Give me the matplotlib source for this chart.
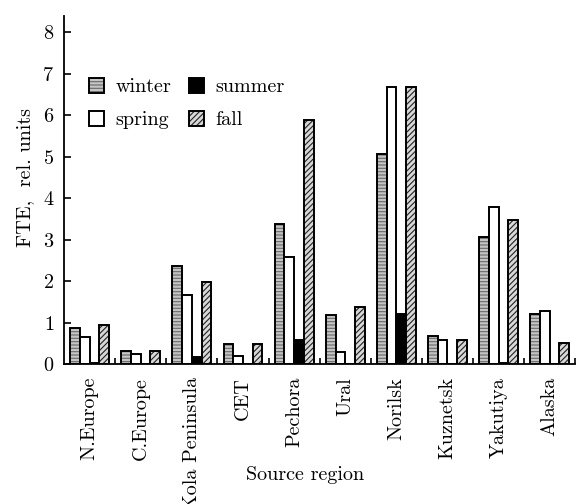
import matplotlib
matplotlib.use("Agg")
import matplotlib.pyplot as plt
import numpy as np

regions = ["N.Europe", "C.Europe", "Kola Peninsula", "CET", "Pechora",
           "Ural", "Norilsk", "Kuznetsk", "Yakutiya", "Alaska"]
winter = [0.88, 0.32, 2.37, 0.48, 3.37, 1.18, 5.07, 0.69, 3.08, 1.22]
spring = [0.67, 0.24, 1.67, 0.20, 2.58, 0.29, 6.67, 0.59, 3.79, 1.28]
summer = [0.04, 0.0, 0.17, 0.0, 0.59, 0.0, 1.22, 0.0, 0.03, 0.0]
fall = [0.94, 0.32, 1.98, 0.48, 5.88, 1.38, 6.67, 0.59, 3.48, 0.51]
yticks = [0, 1, 2, 3, 4, 5, 6, 7, 8]

plt.rcParams['font.family'] = 'cmr10'
plt.rcParams['mathtext.fontset'] = 'cm'
plt.rcParams['axes.formatter.use_mathtext'] = True
plt.rcParams['hatch.linewidth'] = 0.8

fs = 14.5

fig = plt.figure(figsize=(5.77, 5.04), dpi=100)
ax = fig.add_axes([0.111, 0.277, 0.886, 0.692])

x = np.arange(len(regions))
w = 0.19
lw = 1.4

# winter: grey with horizontal lines
hw = ax.bar(x - 1.5 * w, winter, w, color='#c4c4c4', edgecolor='#6a6a6a',
            hatch='-----', linewidth=0)
ow = ax.bar(x - 1.5 * w, winter, w, fill=False, edgecolor='black', linewidth=lw)
# spring: open
sp = ax.bar(x - 0.5 * w, spring, w, color='white', edgecolor='black', linewidth=lw)
# summer: solid black
su = ax.bar(x + 0.5 * w, summer, w, color='black', edgecolor='black', linewidth=lw)
# fall: diagonal hatch
hf = ax.bar(x + 1.5 * w, fall, w, color='#d8d8d8', edgecolor='#222222',
            hatch='//////', linewidth=0)
of = ax.bar(x + 1.5 * w, fall, w, fill=False, edgecolor='black', linewidth=lw)

ax.set_xlim(-0.5, 9.5)
ax.set_ylim(0, 8.4)
ax.set_yticks(yticks)
ax.set_xticks(x)
ax.set_xticklabels(regions, rotation=90, fontsize=fs)
ax.set_xticks(x + 0.5, minor=True)
ax.tick_params(axis='x', which='major', length=0, pad=9)
ax.tick_params(axis='x', which='minor', direction='in', length=4, width=1.2)
ax.tick_params(axis='y', direction='in', length=5, width=1.2, labelsize=fs, pad=7)

ax.spines['top'].set_visible(False)
ax.spines['right'].set_visible(False)
ax.spines['left'].set_linewidth(1.3)
ax.spines['bottom'].set_linewidth(1.3)

ax.set_ylabel("FTE,  rel. units", fontsize=fs)
ax.yaxis.set_label_coords(-0.058, 0.535)
fig.text(305 / 577, 1 - 475 / 504, "Source region", fontsize=fs,
         ha='center', va='center')

handles = [(hw[0], ow[0]), sp[0], su[0], (hf[0], of[0])]
labels = ["winter", "spring", "summer", "fall"]
ax.legend(handles, labels, ncol=2, frameon=False, fontsize=fs,
          loc='upper left', bbox_to_anchor=(79 / 577, 1 - 68 / 504),
          bbox_transform=fig.transFigure, borderpad=0,
          handlelength=0.75, handleheight=0.75, handletextpad=0.55,
          columnspacing=0.9, labelspacing=0.72)

plt.savefig("out.png", dpi=100)
